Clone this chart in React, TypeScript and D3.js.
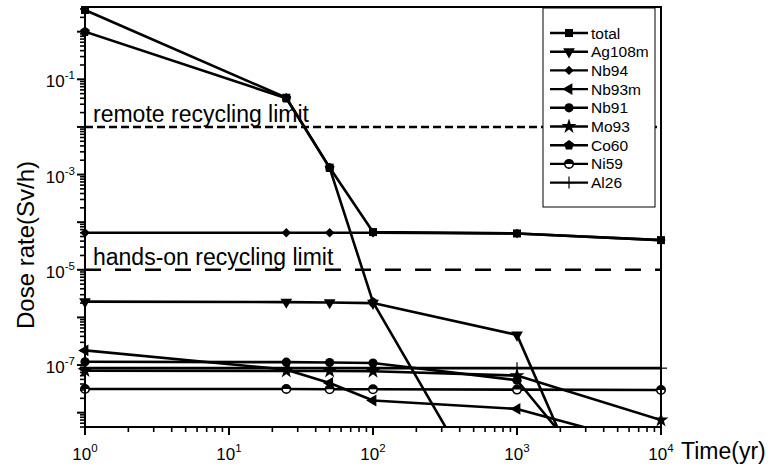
import React from "react";
import * as d3 from "d3";

const times = [1, 25, 50, 100, 1000, 10000];
const seriesNames = ["total", "Ag108m", "Nb94", "Nb93m", "Nb91", "Mo93", "Co60", "Ni59", "Al26"];
const total = [2.85, 0.041, 1.4e-3, 6.2e-5, 5.8e-5, 4.2e-5];
const ag108m = [2.15e-6, 2.1e-6, 2.05e-6, 2.0e-6, 4.3e-7, 5e-14];
const nb94 = [6.0e-5, 6.0e-5, 6.0e-5, 6.0e-5, 5.8e-5, 4.2e-5];
const nb93m = [2.03e-7, 8.0e-8, 4.2e-8, 1.8e-8, 1.2e-8, 1.8e-9];
const nb91 = [1.17e-7, 1.15e-7, 1.13e-7, 1.1e-7, 4.8e-8, 1e-11];
const mo93 = [7.6e-8, 7.5e-8, 7.5e-8, 7.4e-8, 6.0e-8, 7.0e-9];
const co60 = [1.0, 0.04, 1.38e-3, 2.1e-6, 1.3e-11, 1e-30];
const ni59 = [3.15e-8, 3.15e-8, 3.1e-8, 3.1e-8, 3.05e-8, 3.0e-8];
const al26 = [8.6e-8, 8.6e-8, 8.6e-8, 8.6e-8, 8.6e-8, 8.6e-8];
const seriesValues = [total, ag108m, nb94, nb93m, nb91, mo93, co60, ni59, al26];
const markerTypes = ["square", "down", "diamond", "left", "circle", "star", "pentagon", "half", "plus"];

const limitValues = [1e-2, 1e-5];
const limitLabels = ["remote recycling limit", "hands-on recycling limit"];
const xTickExps = [0, 1, 2, 3, 4];
const yTickExps = [-1, -3, -5, -7];

const W = 773, H = 470;
const L = 85, R = 661, T = 7, B = 427;
const FONT = "'Liberation Sans', Arial, Helvetica, sans-serif";

const x = d3.scaleLog().domain([1, 1e4]).range([L, R]);
const y = d3.scaleLog().domain([5e-9, 3.3]).range([B, T]);

function Marker({ type, cx, cy }: { type: string; cx: number; cy: number }) {
  const t = `translate(${cx},${cy})`;
  switch (type) {
    case "square":
      return <path transform={t} d={d3.symbol().type(d3.symbolSquare).size(64)()!} fill="#000" />;
    case "down":
      return <path transform={t + " rotate(180)"} d={d3.symbol().type(d3.symbolTriangle).size(60)()!} fill="#000" />;
    case "left":
      return <path transform={t + " rotate(-90)"} d={d3.symbol().type(d3.symbolTriangle).size(60)()!} fill="#000" />;
    case "diamond":
      return <path transform={t + " rotate(45)"} d={d3.symbol().type(d3.symbolSquare).size(44)()!} fill="#000" />;
    case "circle":
      return <circle cx={cx} cy={cy} r={4.6} fill="#000" />;
    case "star":
      return <path transform={t} d={d3.symbol().type(d3.symbolStar).size(70)()!} fill="#000" />;
    case "pentagon": {
      const pts = d3.range(5).map((i) => {
        const a = -Math.PI / 2 + (i * 2 * Math.PI) / 5;
        return [5.2 * Math.cos(a), 5.2 * Math.sin(a)] as [number, number];
      });
      return <path transform={t} d={d3.line()(pts)! + "Z"} fill="#000" />;
    }
    case "half":
      return (
        <g transform={t}>
          <circle r={4.2} fill="#fff" stroke="#000" strokeWidth={1.6} />
          <path d={d3.arc()({ innerRadius: 0, outerRadius: 4.2, startAngle: -Math.PI / 2, endAngle: Math.PI / 2 })!} fill="#000" />
        </g>
      );
    case "plus":
      return (
        <g transform={t} stroke="#000" strokeWidth={1.2}>
          <line x1={-6} x2={6} y1={0} y2={0} />
          <line x1={0} x2={0} y1={-6} y2={6} />
        </g>
      );
  }
  return null;
}

export default function App() {
  const [y0, y1] = y.domain();
  const line = d3
    .line<[number, number]>()
    .x((d) => x(d[0]))
    .y((d) => y(d[1]));

  const xMinor: number[] = [];
  for (let e = 0; e < 4; e++) for (let k = 2; k <= 9; k++) xMinor.push(k * Math.pow(10, e));
  const yMajor: number[] = d3.range(-8, 1).map((e) => Math.pow(10, e));
  const yMinor: number[] = [];
  for (let e = -9; e <= 0; e++)
    for (let k = 2; k <= 9; k++) {
      const v = k * Math.pow(10, e);
      if (v >= y0 && v <= y1) yMinor.push(v);
    }

  const legX = 543, legY = 8, legW = 112, legH = 199;

  return (
    <svg width={W} height={H} style={{ position: "absolute", left: 0, top: 0, background: "#fff" }} fontFamily={FONT}>
      <defs>
        <clipPath id="plotClip">
          <rect x={L} y={T} width={R - L} height={B - T} />
        </clipPath>
      </defs>
      <rect x={0} y={0} width={W} height={H} fill="#fff" />

      {/* limit lines */}
      {limitValues.map((v, i) => (
        <g key={i}>
          <line
            x1={L}
            x2={R}
            y1={y(v)}
            y2={y(v)}
            stroke="#000"
            strokeWidth={2.6}
            strokeDasharray={i === 0 ? "8,4" : "16,14"}
          />
          <text x={93} y={y(v) - 5} fontSize={23} fill="#000">
            {limitLabels[i]}
          </text>
        </g>
      ))}

      {/* data lines */}
      <g clipPath="url(#plotClip)">
        {seriesValues.map((vals, i) => (
          <path
            key={i}
            d={line(times.map((t, j) => [t, vals[j]] as [number, number]))!}
            fill="none"
            stroke="#000"
            strokeWidth={2.6}
            strokeLinejoin="round"
          />
        ))}
      </g>

      {/* markers */}
      {seriesValues.map((vals, i) =>
        times.map((t, j) =>
          vals[j] >= y0 && vals[j] <= y1 ? (
            <Marker key={`${i}-${j}`} type={markerTypes[i]} cx={x(t)} cy={y(vals[j])} />
          ) : null
        )
      )}

      {/* legend */}
      <rect x={legX} y={legY} width={legW} height={legH} fill="#fff" stroke="#000" strokeWidth={1} />
      {seriesNames.map((n, i) => {
        const cy = 33 + i * 18.7;
        return (
          <g key={n}>
            <line x1={550} x2={588} y1={cy} y2={cy} stroke="#000" strokeWidth={2.4} />
            <Marker type={markerTypes[i]} cx={569} cy={cy} />
            <text x={591} y={cy + 5.5} fontSize={15.5} fill="#000">
              {n}
            </text>
          </g>
        );
      })}

      {/* frame */}
      <rect x={L} y={T} width={R - L} height={B - T} fill="none" stroke="#000" strokeWidth={2} />

      {/* x ticks */}
      {xTickExps.map((e) => (
        <line key={"xm" + e} x1={x(Math.pow(10, e))} x2={x(Math.pow(10, e))} y1={B} y2={B + 8} stroke="#000" strokeWidth={2} />
      ))}
      {xMinor.map((v) => (
        <line key={"xn" + v} x1={x(v)} x2={x(v)} y1={B} y2={B + 5} stroke="#000" strokeWidth={1.6} />
      ))}
      {xTickExps.map((e) => (
        <text key={"xl" + e} x={x(Math.pow(10, e))} y={460} textAnchor="middle" fontSize={17} fill="#000">
          <tspan>10</tspan>
          <tspan dy={-8} fontSize={11.5}>
            {e}
          </tspan>
        </text>
      ))}

      {/* y ticks */}
      {yMajor.map((v) => (
        <line key={"ym" + v} x1={L - 8} x2={L} y1={y(v)} y2={y(v)} stroke="#000" strokeWidth={2} />
      ))}
      {yMinor.map((v) => (
        <line key={"yn" + v} x1={L - 5} x2={L} y1={y(v)} y2={y(v)} stroke="#000" strokeWidth={1.6} />
      ))}
      {yTickExps.map((e) => (
        <text key={"yl" + e} x={75} y={y(Math.pow(10, e)) + 8} textAnchor="end" fontSize={17} fill="#000">
          <tspan>10</tspan>
          <tspan dy={-8} fontSize={11.5}>
            {e}
          </tspan>
        </text>
      ))}

      {/* axis titles */}
      <text x={681} y={459} fontSize={23} fill="#000">
        Time(yr)
      </text>
      <text transform={`translate(34,245) rotate(-90)`} textAnchor="middle" fontSize={24} fill="#000">
        Dose rate(Sv/h)
      </text>
    </svg>
  );
}
